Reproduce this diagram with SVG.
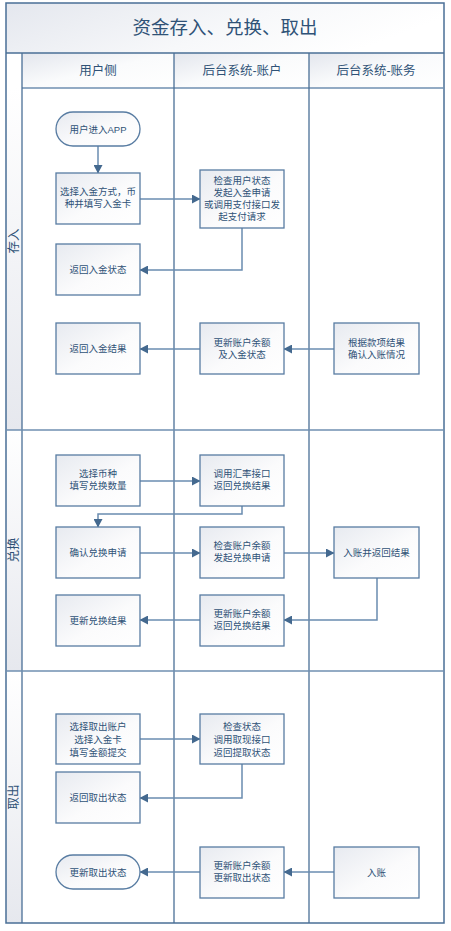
<svg xmlns="http://www.w3.org/2000/svg" width="451" height="931" viewBox="0 0 451 931">
<defs>
<linearGradient id="gTitle" x1="0" y1="0" x2="1" y2="0.3">
<stop offset="0" stop-color="#e4e7ee"/><stop offset="0.6" stop-color="#f7f8fa"/><stop offset="1" stop-color="#ffffff"/>
</linearGradient>
<linearGradient id="gHead" x1="0" y1="0" x2="1" y2="1">
<stop offset="0" stop-color="#e3e6ed"/><stop offset="0.5" stop-color="#fafbfc"/><stop offset="1" stop-color="#ffffff"/>
</linearGradient>
<linearGradient id="gLane" x1="0" y1="0" x2="0" y2="1">
<stop offset="0" stop-color="#ffffff"/><stop offset="1" stop-color="#e6e8ee"/>
</linearGradient>
<linearGradient id="gBox" x1="0" y1="0" x2="1" y2="1">
<stop offset="0" stop-color="#e7eaf0"/><stop offset="0.55" stop-color="#fbfbfc"/><stop offset="1" stop-color="#ffffff"/>
</linearGradient>
<marker id="arr" markerWidth="9" markerHeight="9" refX="8" refY="4.5" orient="auto" markerUnits="userSpaceOnUse">
<path d="M0,0 L8.5,4.5 L0,9 Z" fill="#44698f"/>
</marker>
<style>
.frame{fill:none;stroke:#4a6f96;stroke-width:1.5}
.ln{stroke:#4a6f96;stroke-width:1.3;fill:none}
.div{stroke:#6f8fb1;stroke-width:1.5;fill:none}
.box{fill:url(#gBox);stroke:#587ca2;stroke-width:1.3}
.t{font-family:"Liberation Sans","Noto Sans CJK SC",sans-serif;fill:#2f5277;text-anchor:middle}
.nt{font-size:9.5px}
.ht{font-size:12.5px}
.lt{font-size:12.5px}
.c{fill:none;stroke:#6a8cb0;stroke-width:1.5;marker-end:url(#arr)}
</style>
</defs>

<g id="frame">
<rect x="6" y="3" width="438" height="50" fill="url(#gTitle)"/>
<rect x="22" y="53" width="152" height="35" fill="url(#gHead)"/>
<rect x="174" y="53" width="135" height="35" fill="url(#gHead)"/>
<rect x="309" y="53" width="135" height="35" fill="url(#gHead)"/>
<rect x="6" y="88" width="16" height="342" fill="url(#gLane)"/>
<rect x="6" y="430" width="16" height="241" fill="url(#gLane)"/>
<rect x="6" y="671" width="16" height="252" fill="url(#gLane)"/>
<rect class="frame" x="6" y="3" width="438" height="920"/>
<line class="ln" x1="6" y1="53" x2="444" y2="53"/>
<line class="div" x1="22" y1="88" x2="444" y2="88"/>
<line class="ln" x1="22" y1="53" x2="22" y2="923"/>
<line class="ln" x1="174" y1="53" x2="174" y2="923"/>
<line class="ln" x1="309" y1="53" x2="309" y2="923"/>
<line class="div" x1="6" y1="430" x2="444" y2="430"/>
<line class="div" x1="6" y1="671" x2="444" y2="671"/>
<text class="t" x="225" y="34" font-size="18.5px">资金存入、兑换、取出</text>
<text class="t ht" x="98" y="75">用户侧</text>
<text class="t ht" x="242" y="75">后台系统-账户</text>
<text class="t ht" x="376" y="75">后台系统-账务</text>
<text class="t lt" transform="translate(18,241) rotate(-90)">存入</text>
<text class="t lt" transform="translate(18,550) rotate(-90)">兑换</text>
<text class="t lt" transform="translate(18,797) rotate(-90)">取出</text>
</g>

<g id="connectors">
<path class="c" d="M98,146 V173"/>
<path class="c" d="M140,199 H200"/>
<path class="c" d="M242,228 V270 H140"/>
<path class="c" d="M200,349 H140"/>
<path class="c" d="M334,349 H284"/>
<path class="c" d="M140,481 H200"/>
<path class="c" d="M242,506 V514 H98 V527"/>
<path class="c" d="M140,553 H200"/>
<path class="c" d="M284,553 H334"/>
<path class="c" d="M377,578 V620 H284"/>
<path class="c" d="M200,620 H140"/>
<path class="c" d="M140,739 H200"/>
<path class="c" d="M242,764 V798 H140"/>
<path class="c" d="M200,872 H140"/>
<path class="c" d="M334,872 H284"/>
</g>

<g id="n1"><rect class="box" x="56" y="112" width="84" height="34" rx="17"/><text class="t nt" x="98" y="132.5">用户进入APP</text></g>
<g id="n2"><rect class="box" x="56" y="173" width="84" height="51"/><text class="t nt" x="98" y="195">选择入金方式，币</text><text class="t nt" x="98" y="207">种并填写入金卡</text></g>
<g id="n3"><rect class="box" x="200" y="170" width="84" height="58"/><text class="t nt" x="242" y="184">检查用户状态</text><text class="t nt" x="242" y="196">发起入金申请</text><text class="t nt" x="242" y="208">或调用支付接口发</text><text class="t nt" x="242" y="220">起支付请求</text></g>
<g id="n4"><rect class="box" x="56" y="244" width="84" height="51"/><text class="t nt" x="98" y="273">返回入金状态</text></g>
<g id="n5"><rect class="box" x="56" y="323" width="84" height="51"/><text class="t nt" x="98" y="352">返回入金结果</text></g>
<g id="n6"><rect class="box" x="200" y="323" width="84" height="51"/><text class="t nt" x="242" y="346">更新账户余额</text><text class="t nt" x="242" y="358">及入金状态</text></g>
<g id="n7"><rect class="box" x="334" y="323" width="85" height="51"/><text class="t nt" x="376.5" y="346">根据款项结果</text><text class="t nt" x="376.5" y="358">确认入账情况</text></g>

<g id="n8"><rect class="box" x="56" y="455" width="84" height="51"/><text class="t nt" x="98" y="477">选择币种</text><text class="t nt" x="98" y="489">填写兑换数量</text></g>
<g id="n9"><rect class="box" x="200" y="455" width="84" height="51"/><text class="t nt" x="242" y="477">调用汇率接口</text><text class="t nt" x="242" y="489">返回兑换结果</text></g>
<g id="n10"><rect class="box" x="56" y="527" width="84" height="51"/><text class="t nt" x="98" y="556">确认兑换申请</text></g>
<g id="n11"><rect class="box" x="200" y="527" width="84" height="51"/><text class="t nt" x="242" y="549">检查账户余额</text><text class="t nt" x="242" y="561">发起兑换申请</text></g>
<g id="n12"><rect class="box" x="334" y="527" width="85" height="51"/><text class="t nt" x="376.5" y="556">入账并返回结果</text></g>
<g id="n13"><rect class="box" x="56" y="595" width="84" height="51"/><text class="t nt" x="98" y="624">更新兑换结果</text></g>
<g id="n14"><rect class="box" x="200" y="595" width="84" height="51"/><text class="t nt" x="242" y="617">更新账户余额</text><text class="t nt" x="242" y="629">返回兑换结果</text></g>

<g id="n15"><rect class="box" x="56" y="714" width="84" height="50"/><text class="t nt" x="98" y="730">选择取出账户</text><text class="t nt" x="98" y="743">选择入金卡</text><text class="t nt" x="98" y="756">填写金额提交</text></g>
<g id="n16"><rect class="box" x="200" y="714" width="84" height="50"/><text class="t nt" x="242" y="730">检查状态</text><text class="t nt" x="242" y="743">调用取现接口</text><text class="t nt" x="242" y="756">返回提取状态</text></g>
<g id="n17"><rect class="box" x="56" y="772" width="84" height="51"/><text class="t nt" x="98" y="801">返回取出状态</text></g>
<g id="n18"><rect class="box" x="56" y="855" width="84" height="34" rx="17"/><text class="t nt" x="98" y="875.5">更新取出状态</text></g>
<g id="n19"><rect class="box" x="200" y="847" width="84" height="51"/><text class="t nt" x="242" y="869">更新账户余额</text><text class="t nt" x="242" y="881">更新取出状态</text></g>
<g id="n20"><rect class="box" x="334" y="847" width="85" height="51"/><text class="t nt" x="376.5" y="876">入账</text></g>
</svg>
